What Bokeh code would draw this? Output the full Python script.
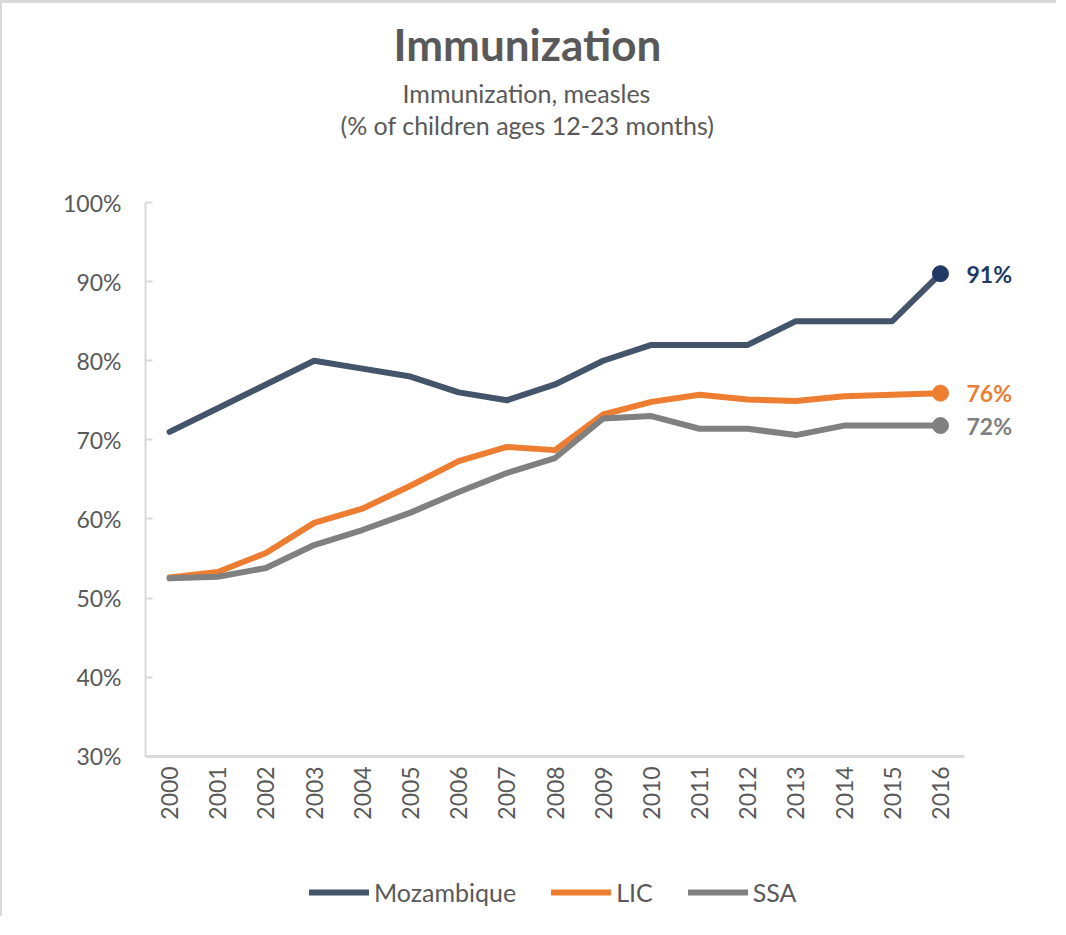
import math
from bokeh.plotting import figure
from bokeh.models import Range1d, FixedTicker, NumeralTickFormatter, Label, Legend, LegendItem, Title
from bokeh.embed import file_html
from bokeh.resources import INLINE

years = list(range(2000, 2017))
mozambique = [71, 74, 77, 80, 79, 78, 76, 75, 77, 80, 82, 82, 82, 85, 85, 85, 91]
lic = [52.6, 53.3, 55.7, 59.5, 61.3, 64.2, 67.3, 69.1, 68.7, 73.2, 74.8, 75.7, 75.1, 74.9, 75.5, 75.7, 75.9]
ssa = [52.5, 52.7, 53.8, 56.7, 58.6, 60.8, 63.4, 65.8, 67.7, 72.7, 73.0, 71.4, 71.4, 70.6, 71.8, 71.8, 71.8]
series_names = ["Mozambique", "LIC", "SSA"]
y_ticks = [0.3, 0.4, 0.5, 0.6, 0.7, 0.8, 0.9, 1.0]

title_text = "Immunization"
subtitle1 = "Immunization, measles"
subtitle2 = "(% of children ages 12-23 months)"

line_colors = ["#44546A", "#ED7D31", "#808080"]
dot_colors = ["#203864", "#ED7D31", "#808080"]
label_colors = ["#203864", "#ED7D31", "#808080"]
FONT = "Lato"
TXT = "#595959"

# plot frame reaches down to the legend; the axes only span 30%-100% / 2000-2016
p = figure(width=1056, height=916, output_backend="svg", toolbar_location=None,
           x_range=Range1d(1999.5, 2018.45), y_range=Range1d(0.0975, 1.0),
           min_border_left=143, min_border_top=199, min_border_right=0, min_border_bottom=3)
p.styles = {"border-top": "3px solid #D9D9D9", "border-left": "2px solid #D9D9D9"}
p.outline_line_color = None
p.xgrid.grid_line_color = None
p.ygrid.grid_line_color = None
p.background_fill_color = "white"
p.border_fill_color = "white"

# y axis
p.yaxis.ticker = FixedTicker(ticks=y_ticks)
p.yaxis.bounds = (y_ticks[0], y_ticks[-1])
p.yaxis.formatter = NumeralTickFormatter(format="0%")
p.yaxis.axis_line_color = "#D9D9D9"
p.yaxis.axis_line_width = 2
p.yaxis.major_tick_line_color = "#D9D9D9"
p.yaxis.major_tick_line_width = 2
p.yaxis.major_tick_in = 7
p.yaxis.major_tick_out = 0
p.yaxis.minor_tick_line_color = None
p.yaxis.major_label_text_font = FONT
p.yaxis.major_label_text_font_size = "23px"
p.yaxis.major_label_text_color = TXT
p.yaxis.major_label_standoff = 24

# x axis, drawn at the 30% level
p.xaxis.fixed_location = y_ticks[0]
p.xaxis.ticker = FixedTicker(ticks=years)
p.xaxis.bounds = (1999.5, 2016.5)
p.xaxis.axis_line_color = "#D9D9D9"
p.xaxis.axis_line_width = 3
p.xaxis.major_tick_line_color = None
p.xaxis.minor_tick_line_color = None
p.xaxis.major_tick_in = 0
p.xaxis.major_tick_out = 0
p.xaxis.major_label_orientation = math.pi / 2
p.xaxis.major_label_text_font = FONT
p.xaxis.major_label_text_font_size = "23px"
p.xaxis.major_label_text_color = TXT
p.xaxis.major_label_standoff = 10

all_series = [mozambique, lic, ssa]
items = []
for name, vals, lc, dc, tc in zip(series_names, all_series, line_colors, dot_colors, label_colors):
    yv = [v / 100 for v in vals]
    r = p.line(years, yv, line_color=lc, line_width=6, line_join="round", line_cap="round")
    items.append(LegendItem(label=name, renderers=[r]))
    p.scatter([years[-1]], [yv[-1]], size=16, fill_color=dc, line_color=dc)
    p.add_layout(Label(x=years[-1], y=yv[-1], x_offset=26, text=f"{round(vals[-1])}%",
                       text_font=FONT, text_font_size="23px", text_font_style="bold",
                       text_color=tc, text_baseline="middle"))

legend = Legend(items=items, orientation="horizontal", location=(164, 9),
                glyph_width=60, glyph_height=24, label_standoff=5, spacing=35,
                padding=0, margin=0, border_line_color=None, background_fill_alpha=0,
                label_text_font=FONT, label_text_font_size="25px", label_text_color=TXT)
p.add_layout(legend, "center")

# titles, stacked upward from the frame
p.add_layout(Title(text=" ", text_font_size="10px", standoff=50), "above")
p.add_layout(Title(text=subtitle2, align="left", offset=195, standoff=0, text_font=FONT,
                   text_font_size="25px", text_font_style="normal", text_color=TXT), "above")
p.add_layout(Title(text=subtitle1, align="left", offset=257, standoff=0, text_font=FONT,
                   text_font_size="25px", text_font_style="normal", text_color=TXT), "above")
p.add_layout(Title(text=title_text, align="left", offset=248, standoff=11, text_font=FONT,
                   text_font_size="44px", text_font_style="bold", text_color=TXT), "above")

open("out.html", "w").write(file_html(p, INLINE))
